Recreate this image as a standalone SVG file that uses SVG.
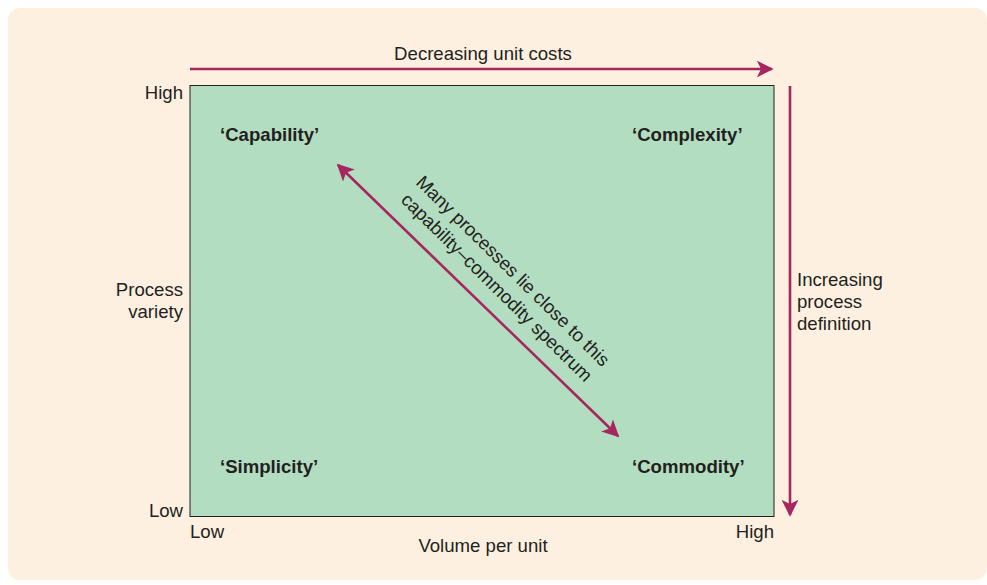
<svg xmlns="http://www.w3.org/2000/svg" width="987" height="585" viewBox="0 0 987 585">
<style>
text{font-family:"Liberation Sans",Arial,sans-serif;font-size:18.6px;fill:#231f20}
.b{font-weight:bold}
.c{stroke:#a6265f;stroke-width:2.6;fill:none}
</style>
<defs>
<marker id="ah" viewBox="0 0 10 10" refX="9" refY="5" markerWidth="6.5" markerHeight="6.5" orient="auto-start-reverse" markerUnits="strokeWidth">
<path d="M0,0 L10,5 L0,10 L2.5,5 Z" fill="#a6265f"/>
</marker>
</defs>
<rect x="8" y="8" width="979" height="572" rx="12" fill="#fdf0e1"/>
<g id="matrix">
<rect x="190" y="85.5" width="584" height="431" fill="#b3ddc1" stroke="#231f20" stroke-width="1"/>
</g>
<g id="connectors">
<line class="c" x1="190" y1="69" x2="772" y2="69" marker-end="url(#ah)"/>
<line class="c" x1="790" y1="86" x2="790" y2="515" marker-end="url(#ah)"/>
<line class="c" x1="338" y1="165" x2="618" y2="436" marker-start="url(#ah)" marker-end="url(#ah)"/>
</g>
<g id="labels">
<text x="483" y="60" text-anchor="middle">Decreasing unit costs</text>
<text x="183" y="99" text-anchor="end">High</text>
<text x="183" y="296" text-anchor="end">Process</text>
<text x="183" y="318" text-anchor="end">variety</text>
<text x="183" y="517" text-anchor="end">Low</text>
<text x="190" y="538">Low</text>
<text x="774" y="538" text-anchor="end">High</text>
<text x="483" y="552" text-anchor="middle">Volume per unit</text>
<text x="797" y="286">Increasing</text>
<text x="797" y="308">process</text>
<text x="797" y="330">definition</text>
</g>
<g id="capability"><text class="b" x="220" y="141">‘Capability’</text></g>
<g id="complexity"><text class="b" x="632" y="141">‘Complexity’</text></g>
<g id="simplicity"><text class="b" x="220" y="473">‘Simplicity’</text></g>
<g id="commodity"><text class="b" x="632" y="473">‘Commodity’</text></g>
<g id="spectrum-label" transform="translate(505,279) rotate(44.5)">
<text x="0" y="-5" text-anchor="middle">Many processes lie close to this</text>
<text x="0" y="18" text-anchor="middle">capability–commodity spectrum</text>
</g>
</svg>
